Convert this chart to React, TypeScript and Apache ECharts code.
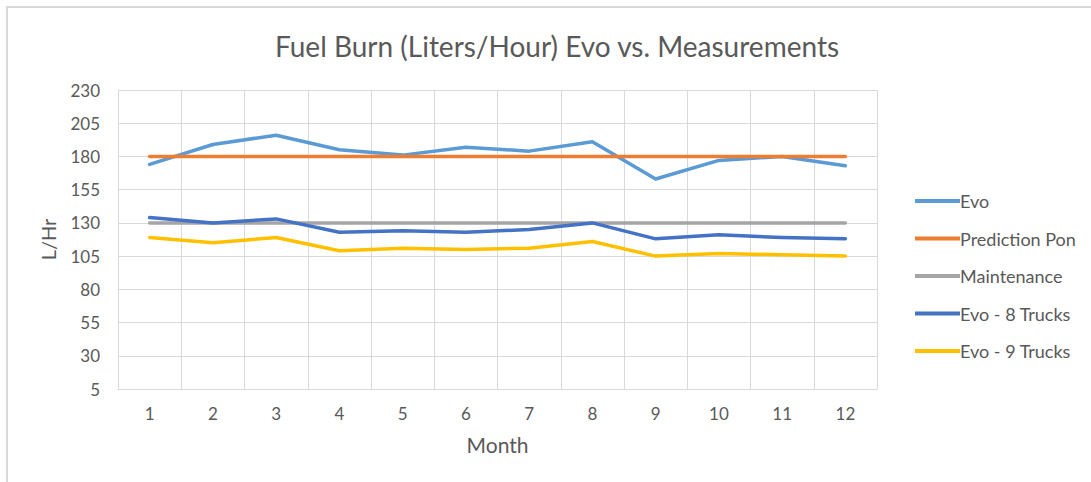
import React, { useEffect, useRef } from "react";
import * as echarts from "echarts";

const months = ["1", "2", "3", "4", "5", "6", "7", "8", "9", "10", "11", "12"];
const evo = [174, 189, 196, 185, 181, 187, 184, 191, 163, 177, 180, 173];
const predictionPon = [180, 180, 180, 180, 180, 180, 180, 180, 180, 180, 180, 180];
const maintenance = [130, 130, 130, 130, 130, 130, 130, 130, 130, 130, 130, 130];
const evo8Trucks = [134, 130, 133, 123, 124, 123, 125, 130, 118, 121, 119, 118];
const evo9Trucks = [119, 115, 119, 109, 111, 110, 111, 116, 105, 107, 106, 105];

const seriesNames = ["Evo", "Prediction Pon", "Maintenance", "Evo - 8 Trucks", "Evo - 9 Trucks"];
const seriesColors = ["#5B9BD5", "#ED7D31", "#A5A5A5", "#4472C4", "#FFC000"];
const seriesData = [evo, predictionPon, maintenance, evo8Trucks, evo9Trucks];

const FONT = "Lato, 'Open Sans', sans-serif";
const TEXT = "#595959";
const GRID = "#D9D9D9";

export default function App() {
  const ref = useRef<HTMLDivElement>(null);
  useEffect(() => {
    if (!ref.current) return;
    const chart = echarts.init(ref.current, null, { renderer: "svg" });
    chart.setOption({
      animation: false,
      backgroundColor: "#ffffff",
      title: {
        text: "Fuel Burn (Liters/Hour) Evo vs. Measurements",
        left: 552,
        textAlign: "center",
        top: 27,
        textStyle: { fontFamily: FONT, fontSize: 28, fontWeight: "normal", color: TEXT },
      },
      graphic: [
        {
          type: "rect",
          shape: { x: 7, y: 7, width: 1200, height: 600 },
          style: { fill: "none", stroke: "#D9D9D9", lineWidth: 2 },
          silent: true,
        },
      ],
      legend: {
        orient: "vertical",
        left: 910,
        top: 186,
        itemWidth: 45,
        itemHeight: 4,
        itemGap: 17.5,
        icon: "rect",
        data: seriesNames,
        textStyle: { fontFamily: FONT, fontSize: 18, color: TEXT, lineHeight: 20, padding: [0, 0, 0, -5] },
      },
      grid: { left: 118, top: 90, right: 214, bottom: 93 },
      xAxis: {
        type: "category",
        data: months,
        boundaryGap: true,
        name: "Month",
        nameLocation: "middle",
        nameGap: 45,
        nameTextStyle: { fontFamily: FONT, fontSize: 21, color: TEXT },
        axisLine: { show: true, lineStyle: { color: GRID, width: 1 } },
        axisTick: { show: false },
        axisLabel: { fontFamily: FONT, fontSize: 17, color: TEXT, margin: 16 },
        splitLine: { show: true, lineStyle: { color: GRID, width: 1 } },
      },
      yAxis: {
        type: "value",
        min: 5,
        max: 230,
        interval: 25,
        name: "L/Hr",
        nameLocation: "middle",
        nameRotate: 90,
        nameGap: 60,
        nameTextStyle: { fontFamily: FONT, fontSize: 20, color: TEXT },
        axisLine: { show: false },
        axisTick: { show: false },
        axisLabel: { fontFamily: FONT, fontSize: 17, color: TEXT, margin: 18 },
        splitLine: { show: true, lineStyle: { color: GRID, width: 1 } },
      },
      series: seriesNames.map((name, i) => ({
        name,
        type: "line",
        data: seriesData[i],
        symbol: "none",
        color: seriesColors[i],
        lineStyle: { width: 3.5, color: seriesColors[i], cap: "round", join: "round" },
      })),
    });
    return () => chart.dispose();
  }, []);
  return (
    <div
      ref={ref}
      style={{ position: "fixed", left: 0, top: 0, width: 1091, height: 482 }}
    />
  );
}
